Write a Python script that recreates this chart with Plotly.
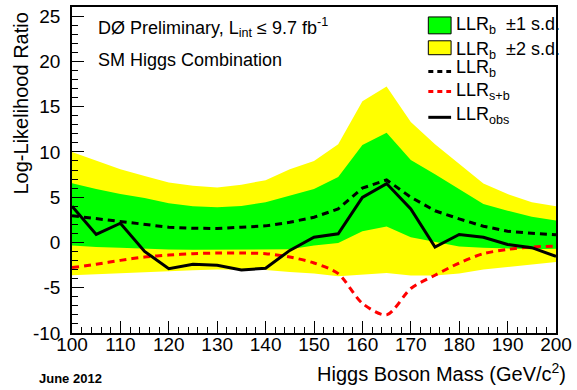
import plotly.graph_objects as go

mass = [100, 105, 110, 115, 120, 125, 130, 135, 140, 145, 150,
        155, 160, 165, 170, 175, 180, 185, 190, 195, 200]

llr_b = [2.95, 2.65, 2.3, 1.97, 1.68, 1.57, 1.54, 1.68, 1.83, 2.23, 2.78,
         3.7, 6.0, 6.9, 5.0, 3.5, 2.6, 1.79, 1.24, 1.02, 0.84]
llr_obs = [4.0, 0.88, 2.12, -0.99, -2.89, -2.41, -2.52, -3.04, -2.85, -0.88, 0.58,
           0.95, 4.97, 6.5, 3.7, -0.51, 0.88, 0.58, -0.22, -0.58, -1.54]
llr_sb = [-2.78, -2.41, -1.98, -1.61, -1.39, -1.24, -1.17, -1.17, -1.24, -1.61, -2.27,
          -3.44, -6.73, -8.0, -5.09, -3.62, -2.27, -1.24, -0.77, -0.51, -0.4]
b1_up = [6.55, 5.89, 5.34, 4.9, 4.32, 3.99, 3.88, 4.03, 4.43, 5.16, 5.89,
         7.24, 10.76, 12.1, 9.11, 7.54, 5.89, 4.25, 3.51, 2.85, 2.41]
b1_dn = [-0.33, -0.51, -0.58, -0.69, -0.77, -0.8, -0.8, -0.8, -0.8, -0.75, -0.33,
         -0.07, 1.24, 1.76, 0.58, 0.04, -0.44, -0.58, -0.69, -0.75, -0.7]
b2_up = [9.99, 9.0, 8.09, 7.35, 6.62, 6.26, 6.07, 6.37, 6.88, 8.09, 9.0,
         10.83, 15.59, 17.23, 13.3, 10.83, 8.64, 6.51, 5.34, 4.43, 3.99]
b2_dn = [-3.62, -3.5, -3.37, -3.26, -3.15, -3.07, -3.0, -3.0, -3.04, -3.26, -3.44,
         -3.73, -3.55, -3.37, -3.66, -3.66, -3.44, -3.0, -2.71, -2.41, -2.16]

x_ticks = [100, 110, 120, 130, 140, 150, 160, 170, 180, 190, 200]
y_ticks = [-10, -5, 0, 5, 10, 15, 20, 25]

FONT = "Liberation Sans, Arial, Helvetica, sans-serif"
W, H = 577, 390
L, R, T, B = 72, 16, 5, 57
PW, PH = W - L - R, H - T - B


def px(xp):
    return (xp - L) / PW


def py(yp):
    return (H - B - yp) / PH


fig = go.Figure()
fig.add_trace(go.Scatter(x=mass, y=b2_dn, mode="lines", line=dict(width=0, color="#ffff00"),
                         showlegend=False, hoverinfo="skip"))
fig.add_trace(go.Scatter(x=mass, y=b2_up, mode="lines", line=dict(width=0, color="#ffff00"),
                         fill="tonexty", fillcolor="#ffff00", showlegend=False))
fig.add_trace(go.Scatter(x=mass, y=b1_dn, mode="lines", line=dict(width=0, color="#00ff00"),
                         showlegend=False, hoverinfo="skip"))
fig.add_trace(go.Scatter(x=mass, y=b1_up, mode="lines", line=dict(width=0, color="#00ff00"),
                         fill="tonexty", fillcolor="#00ff00", showlegend=False))
fig.add_trace(go.Scatter(x=mass, y=llr_sb, mode="lines",
                         line=dict(color="#ff0000", width=3, dash="7px,5px", shape="spline", smoothing=0.8),
                         showlegend=False))
fig.add_trace(go.Scatter(x=mass, y=llr_b, mode="lines",
                         line=dict(color="black", width=3, dash="7px,5px"),
                         showlegend=False))
fig.add_trace(go.Scatter(x=mass, y=llr_obs, mode="lines",
                         line=dict(color="black", width=3),
                         showlegend=False))

shapes = []
annotations = []

# manual legend
leg_x0, leg_x1 = 432, 455
shapes.append(dict(type="rect", xref="paper", yref="paper", x0=px(leg_x0), x1=px(leg_x1),
                   y0=py(32), y1=py(15), fillcolor="#00ff00", line=dict(color="black", width=1)))
shapes.append(dict(type="rect", xref="paper", yref="paper", x0=px(leg_x0), x1=px(leg_x1),
                   y0=py(53), y1=py(39), fillcolor="#ffff00", line=dict(color="black", width=1)))
shapes.append(dict(type="line", xref="paper", yref="paper", x0=px(leg_x0), x1=px(leg_x1),
                   y0=py(70), y1=py(70), line=dict(color="black", width=3, dash="5px,4px")))
shapes.append(dict(type="line", xref="paper", yref="paper", x0=px(leg_x0), x1=px(leg_x1),
                   y0=py(90), y1=py(90), line=dict(color="#ff0000", width=3, dash="5px,4px")))
shapes.append(dict(type="line", xref="paper", yref="paper", x0=px(leg_x0), x1=px(leg_x1),
                   y0=py(116), y1=py(116), line=dict(color="black", width=3)))

leg_texts = [("LLR<sub>b</sub>  ±1 s.d.", 24),
             ("LLR<sub>b</sub>  ±2 s.d.", 49),
             ("LLR<sub>b</sub>", 67),
             ("LLR<sub>s+b</sub>", 90),
             ("LLR<sub>obs</sub>", 114)]
for txt, yc in leg_texts:
    annotations.append(dict(text=txt, xref="paper", yref="paper", x=px(458), y=py(yc),
                            xanchor="left", yanchor="middle", showarrow=False,
                            font=dict(family=FONT, size=18, color="black")))

annotations.append(dict(text="DØ Preliminary, L<sub>int</sub> ≤ 9.7 fb<sup>-1</sup>",
                        xref="paper", yref="paper", x=px(96), y=py(26),
                        xanchor="left", yanchor="middle", showarrow=False,
                        font=dict(family=FONT, size=18, color="black")))
annotations.append(dict(text="SM Higgs Combination",
                        xref="paper", yref="paper", x=px(96), y=py(58),
                        xanchor="left", yanchor="middle", showarrow=False,
                        font=dict(family=FONT, size=18, color="black")))
annotations.append(dict(text="Log-Likelihood Ratio", textangle=-90,
                        xref="paper", yref="paper", x=px(20), y=py(9),
                        xanchor="center", yanchor="top", showarrow=False,
                        font=dict(family=FONT, size=20, color="black")))
annotations.append(dict(text="Higgs Boson Mass (GeV/c<sup>2</sup>)",
                        xref="paper", yref="paper", x=px(573), y=py(373),
                        xanchor="right", yanchor="middle", showarrow=False,
                        font=dict(family=FONT, size=20, color="black")))
annotations.append(dict(text="<b>June 2012</b>",
                        xref="paper", yref="paper", x=px(37), y=py(379),
                        xanchor="left", yanchor="middle", showarrow=False,
                        font=dict(family=FONT, size=13, color="black")))

fig.update_layout(
    width=W, height=H,
    margin=dict(l=L, r=R, t=T, b=B),
    paper_bgcolor="white", plot_bgcolor="white",
    font=dict(family=FONT, size=19, color="black"),
    shapes=shapes, annotations=annotations,
    showlegend=False,
)
fig.update_xaxes(range=[100, 200], tickvals=x_ticks, ticktext=[str(v) for v in x_ticks],
                 ticks="inside", ticklen=12, tickwidth=1, tickcolor="black",
                 minor=dict(ticks="inside", ticklen=6, dtick=2, tick0=100, tickcolor="black", tickwidth=1),
                 showline=True, linecolor="black", linewidth=1.5, mirror=True,
                 showgrid=False, zeroline=False, ticklabelstandoff=-7,
                 tickfont=dict(family=FONT, size=19, color="black"))
fig.update_yaxes(range=[-10, 26], tickvals=y_ticks, ticktext=[str(v) for v in y_ticks],
                 ticks="inside", ticklen=12, tickwidth=1, tickcolor="black",
                 minor=dict(ticks="inside", ticklen=6, dtick=1, tick0=0, tickcolor="black", tickwidth=1),
                 showline=True, linecolor="black", linewidth=1.5, mirror=True,
                 showgrid=False, zeroline=False, ticklabelstandoff=6,
                 tickfont=dict(family=FONT, size=19, color="black"))

fig.write_html("out.html")
